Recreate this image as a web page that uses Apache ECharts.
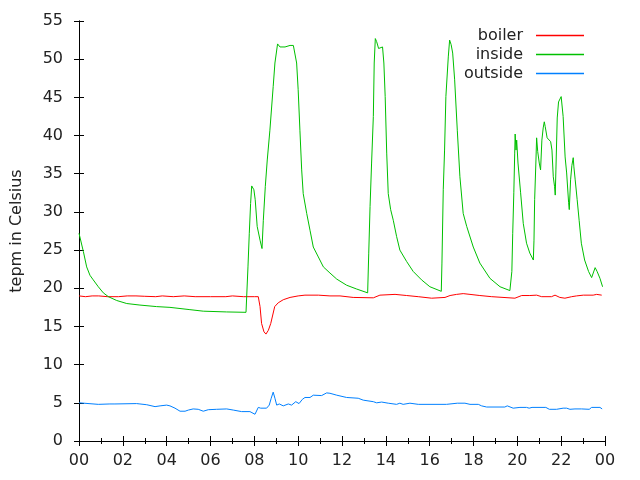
<!DOCTYPE html>
<html>
<head>
<meta charset="utf-8">
<script src="https://cdn.jsdelivr.net/npm/echarts@6/dist/echarts.min.js"></script>
<style>html,body{margin:0;padding:0;background:#fff}#c{width:640px;height:480px}</style>
</head>
<body>
<div id="c"></div>
<script>
// hours of day (0..24) and temperatures in Celsius
const boilerHours = [0,0.3,0.6,0.9,1.3,1.8,2.2,2.6,3.0,3.5,3.8,4.3,4.8,5.3,6.0,6.7,7.0,7.5,8.0,8.18,8.26,8.33,8.44,8.53,8.64,8.75,8.84,8.93,9.09,9.32,9.63,10.0,10.31,10.92,11.45,11.91,12.51,13.43,13.73,14.42,14.95,15.48,16.09,16.7,16.93,17.23,17.53,17.84,18.29,18.83,19.89,20.2,20.57,20.88,21.11,21.56,21.72,21.94,22.17,22.48,22.7,23.01,23.46,23.62,23.85];
const boilerTemp  = [19.0,18.9,19.0,19.0,18.9,18.9,19.0,19.0,18.95,18.9,19.0,18.9,19.0,18.9,18.9,18.9,19.0,18.9,18.9,18.9,17.6,15.4,14.3,14.0,14.5,15.4,16.5,17.6,18.1,18.5,18.8,19.0,19.1,19.1,19.0,19.0,18.8,18.75,19.1,19.2,19.05,18.9,18.7,18.8,19.05,19.2,19.3,19.2,19.05,18.9,18.7,19.05,19.05,19.1,18.9,18.9,19.1,18.8,18.7,18.9,19.0,19.1,19.1,19.2,19.1];

const insideHours = [0,0.05,0.2,0.35,0.5,0.65,0.88,1.11,1.34,1.72,2.18,2.78,3.54,4.15,5.06,5.67,6.74,7.62,7.68,7.71,7.77,7.83,7.88,7.98,8.04,8.13,8.26,8.35,8.41,8.5,8.59,8.71,8.86,8.94,9.06,9.17,9.4,9.63,9.78,9.85,9.93,10.0,10.08,10.16,10.23,10.39,10.54,10.69,10.92,11.15,11.45,11.76,12.21,12.67,13.17,13.22,13.28,13.35,13.43,13.47,13.52,13.58,13.67,13.76,13.85,13.91,13.97,14.04,14.11,14.22,14.34,14.49,14.64,14.95,15.25,15.63,16.01,16.53,16.56,16.62,16.68,16.74,16.85,16.91,16.98,17.05,17.14,17.26,17.38,17.53,17.69,17.99,18.29,18.75,19.21,19.66,19.71,19.75,19.79,19.84,19.88,19.9,19.94,19.97,20.03,20.15,20.27,20.42,20.57,20.73,20.76,20.79,20.85,20.88,20.93,21.0,21.06,21.12,21.18,21.23,21.27,21.36,21.52,21.58,21.64,21.7,21.73,21.76,21.82,21.88,22.0,22.05,22.09,22.18,22.25,22.34,22.37,22.43,22.49,22.55,22.58,22.64,22.73,22.82,22.92,23.07,23.25,23.39,23.55,23.64,23.77,23.89];
const insideTemp  = [27.2,27.0,24.8,22.8,21.7,21.1,20.2,19.4,18.9,18.4,18.0,17.8,17.6,17.5,17.2,17.0,16.9,16.85,16.85,22.8,27.2,31.1,33.4,32.9,31.6,28.1,26.3,25.2,28.9,33.3,36.8,40.7,46.4,49.5,52.0,51.6,51.6,51.8,51.8,51.7,49.5,46.0,40.7,35.5,32.4,29.8,27.6,25.4,24.1,22.8,22.0,21.2,20.4,19.9,19.4,24.6,30.7,36.4,42.5,49.5,52.7,52.3,51.4,51.6,51.6,49.5,45.1,37.7,32.4,30.3,28.9,26.8,25.0,23.5,22.2,21.1,20.2,19.6,23.3,32.9,38.1,45.1,50.3,52.5,51.9,50.8,47.3,40.7,34.6,29.8,28.1,25.4,23.3,21.3,20.2,19.7,19.6,22.2,27.2,32.5,37.7,40.2,38.1,39.4,36.4,32.5,28.5,25.9,24.6,23.7,26.3,31.6,36.8,39.7,37.9,36.4,35.5,39.4,41.0,41.8,41.2,39.7,39.2,38.1,34.6,33.3,32.2,35.5,42.3,44.4,45.1,45.3,42.5,37.2,35.1,31.2,30.3,34.2,36.1,37.1,35.9,34.2,31.6,28.9,25.9,23.7,22.2,21.4,22.7,22.2,21.3,20.2];

const outsideHours = [0,0.08,0.88,0.96,1.41,1.49,1.64,2.63,2.78,3.09,3.47,3.7,4.0,4.15,4.38,4.61,4.84,4.99,5.21,5.44,5.67,5.9,6.28,6.74,7.04,7.42,7.8,7.89,8.03,8.18,8.29,8.56,8.68,8.77,8.86,8.94,9.02,9.14,9.32,9.55,9.7,9.89,10.04,10.19,10.31,10.54,10.69,11.07,11.3,11.45,11.76,12.21,12.74,12.97,13.43,13.58,13.81,14.11,14.49,14.64,14.79,15.1,15.48,16.77,16.85,17.26,17.35,17.61,17.84,18.22,18.37,18.6,19.43,19.54,19.81,20.12,20.42,20.54,20.67,21.3,21.46,21.79,22.09,22.25,22.4,22.63,22.93,23.01,23.28,23.39,23.77,23.87];
const outsideTemp  = [5.0,4.8,4.8,4.85,4.85,4.75,4.85,4.9,4.85,4.75,4.5,4.6,4.7,4.6,4.3,3.9,3.9,4.05,4.2,4.15,3.9,4.1,4.15,4.2,4.05,3.85,3.85,3.7,3.5,4.4,4.3,4.3,4.7,5.6,6.4,5.6,4.7,4.85,4.6,4.85,4.7,5.15,4.9,5.45,5.7,5.7,6.0,5.95,6.3,6.25,6.0,5.7,5.6,5.35,5.15,5.0,5.1,4.95,4.8,4.95,4.8,4.95,4.8,4.8,4.95,4.95,4.8,4.95,4.8,4.8,4.6,4.45,4.45,4.6,4.3,4.4,4.4,4.3,4.4,4.4,4.15,4.15,4.3,4.3,4.15,4.2,4.2,4.15,4.15,4.4,4.4,4.2];

const seriesNames = ['boiler','inside','outside'];
const seriesColors = ['#ff0000','#00c000','#0080ff'];
const yAxisTitle = 'tepm in Celsius';

function zip(a,b){ return a.map((x,i)=>[x,b[i]]); }

const FONT = 'DejaVu Sans';
const TXT = '#222';
const tickCommon = {show:true, inside:true, length:5, lineStyle:{color:'#000',width:1}};
const lineCommon = {show:true, lineStyle:{color:'#000',width:1}};
const hourFmt = v => String(Math.round(v)%24).padStart(2,'0');

const chart = echarts.init(document.getElementById('c'), null, {renderer:'canvas'});
chart.setOption({
  animation:false,
  backgroundColor:'#fff',
  grid:{left:79, right:35, top:21, bottom:39, containLabel:false},
  legend:{
    data:seriesNames,
    orient:'vertical', right:56, top:26, padding:0, itemGap:0,
    align:'right', icon:'rect', itemWidth:48, itemHeight:1.5,
    textStyle:{fontFamily:FONT, fontSize:16, color:TXT, lineHeight:19, padding:[0,8,0,0]},
    selectedMode:false
  },
  xAxis:[
    {type:'value', min:0, max:24, interval:2, position:'bottom',
     axisLine:lineCommon, axisTick:tickCommon,
     minorTick:{show:true, splitNumber:2, length:3, lineStyle:{color:'#000',width:1}},
     splitLine:{show:false},
     axisLabel:{formatter:hourFmt, margin:12, fontFamily:FONT, fontSize:16, color:TXT}},
    {type:'value', min:0, max:24, interval:2, position:'top',
     axisLine:lineCommon, axisTick:tickCommon,
     minorTick:{show:true, splitNumber:2, length:3, lineStyle:{color:'#000',width:1}},
     splitLine:{show:false}, axisLabel:{show:false}}
  ],
  yAxis:[
    {type:'value', min:0, max:55, interval:5, position:'left',
     name:yAxisTitle, nameLocation:'middle', nameGap:54, nameRotate:90,
     nameTextStyle:{fontFamily:FONT, fontSize:16, color:TXT},
     axisLine:lineCommon, axisTick:tickCommon, splitLine:{show:false},
     axisLabel:{margin:16, fontFamily:FONT, fontSize:16, color:TXT}},
    {type:'value', min:0, max:55, interval:5, position:'right',
     axisLine:lineCommon, axisTick:tickCommon, splitLine:{show:false},
     axisLabel:{show:false}}
  ],
  series:[
    {name:seriesNames[0], type:'line', data:zip(boilerHours,boilerTemp), showSymbol:false, symbol:'none',
     color:seriesColors[0], lineStyle:{width:1, color:seriesColors[0]}, z:2},
    {name:seriesNames[1], type:'line', data:zip(insideHours,insideTemp), showSymbol:false, symbol:'none',
     color:seriesColors[1], lineStyle:{width:1, color:seriesColors[1]}, z:3},
    {name:seriesNames[2], type:'line', data:zip(outsideHours,outsideTemp), showSymbol:false, symbol:'none',
     color:seriesColors[2], lineStyle:{width:1, color:seriesColors[2]}, z:4}
  ]
});
</script>
</body>
</html>
